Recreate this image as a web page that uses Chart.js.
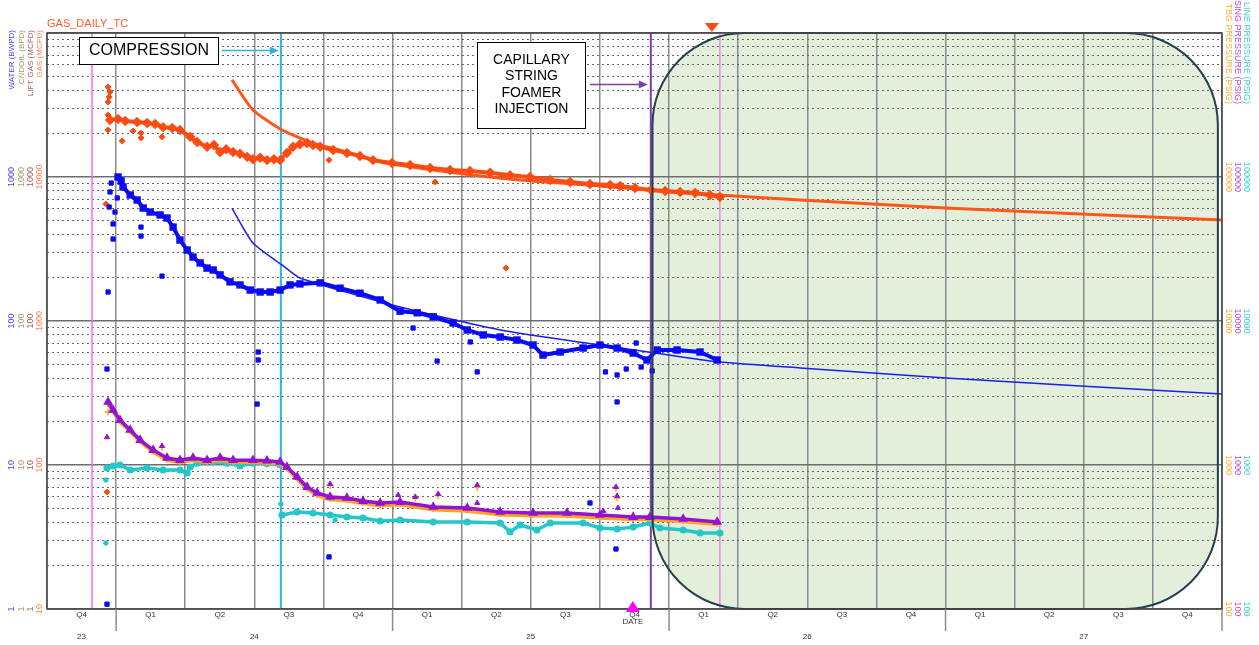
<!DOCTYPE html>
<html>
<head>
<meta charset="utf-8">
<script src="https://cdn.jsdelivr.net/npm/chart.js@4.4.1/dist/chart.umd.min.js"></script>
<style>
  html, body { margin: 0; padding: 0; background: #fff; }
  #wrap { width: 1259px; height: 645px; }
</style>
</head>
<body>
<div id="wrap"><canvas id="wellChart" width="1259" height="645"></canvas></div>
<script>
// ---- data (dates as decimal years) ----
const gasT = [2023.978, 2024.007, 2024.033, 2024.076, 2024.112, 2024.141, 2024.170, 2024.203, 2024.231, 2024.268,
  2024.293, 2024.329, 2024.354, 2024.376, 2024.398, 2024.423, 2024.448, 2024.474, 2024.495, 2024.521,
  2024.546, 2024.571, 2024.593, 2024.618, 2024.640, 2024.665, 2024.691, 2024.712, 2024.738, 2024.785,
  2024.835, 2024.882, 2024.929, 2024.998, 2025.063, 2025.136, 2025.208, 2025.280, 2025.353, 2025.425,
  2025.497, 2025.570, 2025.642, 2025.714, 2025.787, 2025.823, 2025.877, 2025.935, 2025.986, 2026.040,
  2026.094, 2026.148, 2026.184];
const gasRate = [24900, 25300, 24500, 24100, 23700, 23300, 22200, 21900, 21200, 19000,
  17500, 16200, 16700, 14900, 15600, 14900, 14500, 13800, 13300, 13600,
  13100, 13300, 13100, 14700, 16200, 16900, 17200, 16700, 16200, 15400,
  14700, 14000, 13100, 12500, 12100, 11550, 11200, 11000, 10700, 10300,
  10000, 9530, 9230, 8940, 8800, 8660, 8390, 8120, 7990, 7870,
  7740, 7500, 7260];
const gasOutT = [2023.971, 2023.978, 2023.975, 2023.971, 2023.971, 2023.971, 2024.022, 2024.061, 2024.090, 2024.090,
  2024.166, 2024.770, 2025.154, 2025.410, 2023.963, 2023.967];
const gasOutRate = [42200, 38900, 35900, 33200, 26900, 21200, 17800, 20900, 20200, 18700,
  19000, 13100, 9230, 2330, 6490, 64.9];

const waterT = [2024.007, 2024.018, 2024.025, 2024.051, 2024.076, 2024.098, 2024.123, 2024.159, 2024.184, 2024.206,
  2024.231, 2024.257, 2024.278, 2024.304, 2024.329, 2024.351, 2024.376, 2024.412, 2024.448, 2024.485,
  2024.521, 2024.557, 2024.593, 2024.629, 2024.665, 2024.738, 2024.810, 2024.882, 2024.955, 2025.027,
  2025.089, 2025.147, 2025.219, 2025.270, 2025.328, 2025.389, 2025.450, 2025.508, 2025.544, 2025.606,
  2025.689, 2025.750, 2025.812, 2025.870, 2025.920, 2025.957, 2026.029, 2026.112, 2026.174];
const waterRate = [1000, 938, 853, 750, 692, 609, 571, 545, 519, 449,
  365, 311, 278, 253, 233, 226, 209, 187, 178, 164,
  159, 159, 164, 178, 181, 184, 169, 156, 140, 117,
  114, 107, 96.8, 86.6, 80.0, 77.4, 73.8, 68.1, 58.0, 60.9,
  64.9, 68.1, 64.9, 59.9, 53.6, 62.9, 62.9, 60.9, 53.6];
const waterOutT = [2023.971, 2023.982, 2023.978, 2023.975, 2023.996, 2023.989, 2023.989, 2023.967, 2023.967, 2024.090,
  2024.090, 2024.166, 2024.004, 2024.514, 2024.514, 2024.510, 2024.770, 2025.074, 2025.161, 2025.306,
  2025.281, 2025.770, 2025.812, 2025.812, 2025.845, 2025.881, 2025.899, 2025.939, 2025.714, 2025.808];
const waterOutRate = [159, 908, 787, 619, 571, 472, 371, 46.4, 1.08, 449,
  389, 205, 715, 60.9, 53.6, 26.5, 2.30, 89.4, 52.7, 44.3,
  71.5, 44.3, 42.2, 27.4, 46.4, 70.3, 47.9, 45.0, 5.45, 2.61];

const pressT = [2023.971, 2023.989, 2024.014, 2024.051, 2024.087, 2024.134, 2024.184, 2024.231, 2024.278, 2024.329,
  2024.376, 2024.423, 2024.495, 2024.546, 2024.593, 2024.618, 2024.655, 2024.691, 2024.727, 2024.774,
  2024.835, 2024.893, 2024.955, 2025.027, 2025.147, 2025.270, 2025.389, 2025.508, 2025.631, 2025.750,
  2025.870, 2025.931, 2026.051, 2026.174];
const casingPress = [2740, 2410, 2050, 1750, 1490, 1270, 1120, 1080, 1120, 1080,
  1120, 1080, 1080, 1070, 1050, 968, 826, 703, 639, 600,
  590, 562, 545, 553, 511, 503, 472, 464, 464, 450,
  435, 435, 422, 402];
const tbgPress = [2650, 2350, 1990, 1700, 1450, 1230, 1080, 1040, 1080, 1040,
  1080, 1040, 1050, 1030, 1020, 940, 800, 680, 615, 575,
  565, 540, 522, 530, 488, 480, 452, 444, 442, 428,
  418, 418, 405, 388];
const casingOutT = [2023.967, 2024.166, 2024.774, 2025.020, 2025.082, 2025.165, 2025.306, 2025.306, 2025.808, 2025.812, 2025.815, 2025.762];
const casingOutPress = [1560, 1355, 738, 619, 600, 629, 726, 545, 703, 609, 503, 479];
const tbgOutT = [2023.971, 2024.166, 2024.774, 2025.082, 2025.165, 2025.306, 2025.808, 2025.812];
const tbgOutPress = [2330, 1330, 720, 590, 615, 700, 690, 590];

const lineT = [2023.967, 2023.989, 2024.014, 2024.051, 2024.112, 2024.170, 2024.231, 2024.257, 2024.268, 2024.293,
  2024.351, 2024.402, 2024.448, 2024.495, 2024.546, 2024.593, 2024.597, 2024.600, 2024.655, 2024.712,
  2024.774, 2024.835, 2024.893, 2024.955, 2025.027, 2025.147, 2025.270, 2025.389, 2025.425, 2025.461,
  2025.522, 2025.570, 2025.689, 2025.750, 2025.812, 2025.870, 2025.931, 2025.967, 2026.051, 2026.112,
  2026.184];
const linePress = [953, 984, 1000, 923, 953, 923, 923, 880, 968, 1030,
  1050, 1030, 984, 1030, 1020, 1000, null, 450, 472, 464,
  450, 435, 429, 408, 415, 402, 402, 396, 343, 383,
  354, 396, 396, 365, 359, 371, 396, 365, 354, 337,
  337];
const lineOutT = [2023.963, 2023.963, 2024.596, 2024.792];
const lineOutPress = [787, 287, 536, 415];

// type curves
const gasFcT = [2024.419, 2024.495, 2024.600, 2024.712, 2024.835, 2024.955, 2025.208, 2025.461, 2025.750, 2026.0, 2026.474, 2027.0, 2027.488, 2028.0];
const gasFc = [47200, 29200, 21200, 17200, 14900, 12700, 10800, 9530, 8660, 7870, 6920, 6090, 5530, 5030];
const waterFcT = [2024.419, 2024.495, 2024.600, 2024.665, 2025.0, 2025.389, 2025.750, 2026.0, 2026.184, 2026.474, 2027.0, 2027.488, 2028.0];
const waterFc = [609, 348, 245, 199, 129, 86.6, 68.1, 58.0, 51.9, 47.2, 40.2, 35.4, 31.1];

// events / markers
const eventT = [2023.913, 2024.596, 2025.934, 2026.184];
const forecastZone = [2025.94, 2027.985];
const dateMarkT = 2025.869;
const topMarkT = 2026.155;

// axis labels
const quarterLabels = ['Q4', 'Q1', 'Q2', 'Q3', 'Q4', 'Q1', 'Q2', 'Q3', 'Q4', 'Q1', 'Q2', 'Q3', 'Q4', 'Q1', 'Q2', 'Q3', 'Q4'];
const yearLabels = ['23', '24', '25', '26', '27'];
const yearCenters = [2023.875, 2024.5, 2025.5, 2026.5, 2027.5];
const yearEdges = [2024, 2025, 2026, 2027, 2028];
const decades = [1, 10, 100, 1000];
const waterTicks = ['1', '10', '100', '1000'];
const gasTicks = ['10', '100', '1000', '10000'];
const pressTicks = ['100', '1000', '10000', '100000'];

const X_MIN = 2023.75, X_MAX = 2028;
const FONT = "'Liberation Sans', Arial, sans-serif";

function pts(ts, vs) {
  return ts.map((t, i) => ({ x: t, y: vs[i] }));
}
function isDecade(v) {
  if (!v) return false;
  const l = Math.log10(v);
  return Math.abs(l - Math.round(l)) < 1e-9;
}

function roundRectPath(ctx, x, y, w, h, r) {
  ctx.beginPath();
  ctx.moveTo(x + r, y);
  ctx.arcTo(x + w, y, x + w, y + h, r);
  ctx.arcTo(x + w, y + h, x, y + h, r);
  ctx.arcTo(x, y + h, x, y, r);
  ctx.arcTo(x, y, x + w, y, r);
  ctx.closePath();
}

function arrow(ctx, x1, x2, y, color) {
  ctx.save();
  ctx.strokeStyle = color; ctx.fillStyle = color; ctx.lineWidth = 1.5;
  ctx.beginPath(); ctx.moveTo(x1, y); ctx.lineTo(x2 - 6, y); ctx.stroke();
  ctx.beginPath(); ctx.moveTo(x2, y); ctx.lineTo(x2 - 9, y - 4); ctx.lineTo(x2 - 9, y + 4); ctx.closePath(); ctx.fill();
  ctx.restore();
}

const decor = {
  id: 'decor',
  beforeDraw(chart) {
    const { ctx, chartArea: a, scales: { x } } = chart;
    const x0 = x.getPixelForValue(forecastZone[0]);
    const x1 = x.getPixelForValue(forecastZone[1]);
    ctx.save();
    roundRectPath(ctx, x0, a.top, x1 - x0, a.bottom - a.top, 92);
    ctx.fillStyle = '#e3efda';
    ctx.fill();
    ctx.restore();
  },
  afterDatasetsDraw(chart) {
    const { ctx, chartArea: a, scales: { x } } = chart;
    const x0 = x.getPixelForValue(forecastZone[0]);
    const x1 = x.getPixelForValue(forecastZone[1]);
    ctx.save();
    roundRectPath(ctx, x0, a.top, x1 - x0, a.bottom - a.top, 92);
    ctx.strokeStyle = '#23404f';
    ctx.lineWidth = 2;
    ctx.stroke();
    ctx.strokeStyle = '#444';
    ctx.lineWidth = 1.5;
    ctx.strokeRect(a.left, a.top, a.right - a.left, a.bottom - a.top);
    ctx.restore();
  },
  afterDraw(chart) {
    const { ctx, chartArea: a, scales: { x, y } } = chart;
    ctx.save();

    // title
    ctx.font = '11px ' + FONT;
    ctx.fillStyle = '#ff5a2a';
    ctx.textAlign = 'left';
    ctx.textBaseline = 'alphabetic';
    ctx.fillText('GAS_DAILY_TC', 47, 27);

    // left axes
    const left = [
      { title: 'WATER (BWPD)', color: '#4343ff', x: 12, labels: waterTicks },
      { title: 'CNDOIL (BPD)', color: '#a0a058', x: 21.5, labels: waterTicks },
      { title: 'LIFT GAS (MCFD)', color: '#a85a5a', x: 31, labels: waterTicks },
      { title: 'GAS (MCFD)', color: '#ff7f55', x: 40, labels: gasTicks }
    ];
    left.forEach(ax => {
      ctx.fillStyle = ax.color;
      ctx.font = '8px ' + FONT;
      ctx.save();
      ctx.translate(ax.x, 30);
      ctx.rotate(-Math.PI / 2);
      ctx.textAlign = 'right';
      ctx.textBaseline = 'middle';
      ctx.fillText(ax.title, 0, 0);
      ctx.restore();
      ctx.font = '9px ' + FONT;
      decades.forEach((v, i) => {
        ctx.save();
        ctx.translate(ax.x, y.getPixelForValue(v));
        ctx.rotate(-Math.PI / 2);
        ctx.textAlign = 'center';
        ctx.textBaseline = 'middle';
        ctx.fillText(ax.labels[i], 0, 0);
        ctx.restore();
      });
    });

    // right axes
    const right = [
      { title: 'TBG PRESSURE (PSIG)', color: '#ffb03a', x: 1228 },
      { title: 'CASING PRESSURE (PSIG)', color: '#b44fe0', x: 1237 },
      { title: 'LINE PRESSURE (PSIG)', color: '#3ccfd6', x: 1246 }
    ];
    right.forEach(ax => {
      ctx.fillStyle = ax.color;
      ctx.font = '9px ' + FONT;
      ctx.save();
      ctx.translate(ax.x, 104);
      ctx.rotate(Math.PI / 2);
      ctx.textAlign = 'right';
      ctx.textBaseline = 'middle';
      ctx.fillText(ax.title, 0, 0);
      ctx.restore();
      decades.forEach((v, i) => {
        ctx.save();
        ctx.translate(ax.x, y.getPixelForValue(v));
        ctx.rotate(Math.PI / 2);
        ctx.textAlign = 'center';
        ctx.textBaseline = 'middle';
        ctx.fillText(pressTicks[i], 0, 0);
        ctx.restore();
      });
    });

    // bottom: quarters and years
    ctx.fillStyle = '#333';
    ctx.font = '8px ' + FONT;
    ctx.textAlign = 'center';
    ctx.textBaseline = 'middle';
    quarterLabels.forEach((q, i) => {
      ctx.fillText(q, x.getPixelForValue(X_MIN + 0.25 * i + 0.125), a.bottom + 6);
    });
    yearLabels.forEach((yl, i) => {
      ctx.fillText(yl, x.getPixelForValue(yearCenters[i]), a.bottom + 28);
    });
    ctx.strokeStyle = '#8c8c8c';
    ctx.lineWidth = 1.5;
    yearEdges.forEach(t => {
      const px = x.getPixelForValue(t);
      ctx.beginPath(); ctx.moveTo(px, a.bottom); ctx.lineTo(px, a.bottom + 22); ctx.stroke();
    });

    // date marker
    const dx = x.getPixelForValue(dateMarkT);
    ctx.fillStyle = '#ff00ff';
    ctx.beginPath(); ctx.moveTo(dx - 7, a.bottom + 3); ctx.lineTo(dx + 7, a.bottom + 3); ctx.lineTo(dx, a.bottom - 8); ctx.closePath(); ctx.fill();
    ctx.fillStyle = '#333';
    ctx.fillText('DATE', dx, a.bottom + 13);

    // top marker
    const tx = x.getPixelForValue(topMarkT);
    ctx.fillStyle = '#ff4a10';
    ctx.beginPath(); ctx.moveTo(tx - 7, a.top - 10); ctx.lineTo(tx + 7, a.top - 10); ctx.lineTo(tx, a.top - 1); ctx.closePath(); ctx.fill();

    // annotations
    ctx.lineWidth = 1;
    ctx.fillStyle = '#fff';
    ctx.strokeStyle = '#000';
    ctx.fillRect(79.5, 37.5, 139, 27);
    ctx.strokeRect(79.5, 37.5, 139, 27);
    ctx.fillStyle = '#000';
    ctx.font = '16px ' + FONT;
    ctx.fillText('COMPRESSION', 149, 51);
    arrow(ctx, 222, x.getPixelForValue(eventT[1]) - 2, 50.5, '#29b4e6');

    ctx.fillStyle = '#fff';
    ctx.strokeStyle = '#000';
    ctx.lineWidth = 1;
    ctx.fillRect(477.5, 42.5, 108, 86);
    ctx.strokeRect(477.5, 42.5, 108, 86);
    ctx.fillStyle = '#000';
    ctx.font = '14px ' + FONT;
    ['CAPILLARY', 'STRING', 'FOAMER', 'INJECTION'].forEach((s, i) => ctx.fillText(s, 531.5, 60 + i * 16.5));
    arrow(ctx, 590, x.getPixelForValue(eventT[2]) - 3, 84.5, '#7d3fa8');

    ctx.restore();
  }
};

const quarterEdges = [];
for (let t = X_MIN; t <= X_MAX + 1e-9; t += 0.25) quarterEdges.push(t);
const logTicks = [];
for (let e = 0; e < 4; e++) for (let m = 1; m <= 9; m++) logTicks.push(m * Math.pow(10, e));
logTicks.push(10000);

function vline(t) {
  return [{ x: t, y: 1 }, { x: t, y: 10000 }];
}

const datasets = [
  // event lines
  { data: vline(eventT[0]), borderColor: '#f070f0', borderWidth: 1.5 },
  { data: vline(eventT[1]), borderColor: '#2cb6ea', borderWidth: 2 },
  { data: vline(eventT[2]), borderColor: '#7a3db8', borderWidth: 2 },
  { data: vline(eventT[3]), borderColor: '#ee55ee', borderWidth: 1 }
].map(d => Object.assign(d, { showLine: true, pointRadius: 0, yAxisID: 'y', order: 20 }));

datasets.push(
  { label: 'Line pressure', data: pts(lineT, linePress), yAxisID: 'yP', showLine: true, spanGaps: false,
    borderColor: '#22c7c9', borderWidth: 3.5, pointStyle: 'circle', pointRadius: 1.8,
    pointBackgroundColor: '#22c7c9', pointBorderColor: '#22c7c9', order: 5 },
  { label: 'Line outliers', data: pts(lineOutT, lineOutPress), yAxisID: 'yP',
    pointStyle: 'circle', pointRadius: 2.2, pointBackgroundColor: '#22c7c9', pointBorderColor: '#22c7c9', order: 5 },
  { label: 'TBG pressure', data: pts(pressT, tbgPress), yAxisID: 'yP', showLine: true,
    borderColor: '#ffa31a', borderWidth: 3.5, pointStyle: 'cross', pointRadius: 2.5, pointBorderWidth: 1.5,
    pointBorderColor: '#ffa31a', order: 4 },
  { label: 'TBG outliers', data: pts(tbgOutT, tbgOutPress), yAxisID: 'yP',
    pointStyle: 'cross', pointRadius: 3.5, pointBorderWidth: 1.5, pointBorderColor: '#ffa31a', order: 4 },
  { label: 'Casing pressure', data: pts(pressT, casingPress), yAxisID: 'yP', showLine: true,
    borderColor: '#9413d2', borderWidth: 3.5, pointStyle: 'triangle', pointRadius: 2.2,
    pointBackgroundColor: '#9413d2', pointBorderColor: '#9413d2', order: 3 },
  { label: 'Casing outliers', data: pts(casingOutT, casingOutPress), yAxisID: 'yP',
    pointStyle: 'triangle', pointRadius: 3, pointBackgroundColor: '#9413d2', pointBorderColor: '#9413d2', order: 3 },
  { label: 'Gas', data: pts(gasT, gasRate), yAxisID: 'yGas', showLine: true,
    borderColor: '#ff4a12', borderWidth: 4, pointStyle: 'rectRot', pointRadius: 2.4,
    pointBackgroundColor: '#ff4a12', pointBorderColor: '#ff4a12', order: 2 },
  { label: 'Gas outliers', data: pts(gasOutT, gasOutRate), yAxisID: 'yGas',
    pointStyle: 'rectRot', pointRadius: 3, pointBackgroundColor: '#ff4a12', pointBorderColor: '#ff4a12', order: 2 },
  { label: 'Water', data: pts(waterT, waterRate), yAxisID: 'y', showLine: true,
    borderColor: '#0a0af5', borderWidth: 4, pointStyle: 'rect', pointRadius: 2.4,
    pointBackgroundColor: '#0a0af5', pointBorderColor: '#0a0af5', order: 1 },
  { label: 'Water outliers', data: pts(waterOutT, waterOutRate), yAxisID: 'y',
    pointStyle: 'rect', pointRadius: 3, pointBackgroundColor: '#0a0af5', pointBorderColor: '#0a0af5', order: 1 },
  { label: 'Gas TC', data: pts(gasFcT, gasFc), yAxisID: 'yGas', showLine: true,
    borderColor: '#ff561c', borderWidth: 3, pointRadius: 0, tension: 0.2, order: 6 },
  { label: 'Water TC', data: pts(waterFcT, waterFc), yAxisID: 'y', showLine: true,
    borderColor: '#1c1cf0', borderWidth: 1.5, pointRadius: 0, tension: 0.2, order: 6 }
);

new Chart(document.getElementById('wellChart'), {
  type: 'scatter',
  data: { datasets },
  options: {
    responsive: false,
    animation: false,
    devicePixelRatio: 1,
    layout: { padding: { left: 47, right: 37, top: 33, bottom: 36 } },
    plugins: { legend: { display: false }, tooltip: { enabled: false } },
    scales: {
      x: {
        type: 'linear', min: X_MIN, max: X_MAX,
        afterBuildTicks: s => { s.ticks = quarterEdges.map(v => ({ value: v })); },
        grid: { color: '#8c8c8c', lineWidth: 1.5, drawTicks: false },
        border: { display: false },
        ticks: { display: false }
      },
      y: {
        type: 'logarithmic', min: 1, max: 10000,
        afterBuildTicks: s => { s.ticks = logTicks.map(v => ({ value: v })); },
        grid: {
          color: c => isDecade(c.tick && c.tick.value) ? '#6e6e6e' : '#666',
          lineWidth: c => isDecade(c.tick && c.tick.value) ? 1.6 : 1,
          drawTicks: false
        },
        border: { display: false, dash: c => (c.tick && !isDecade(c.tick.value)) ? [2, 3] : [] },
        ticks: { display: false }
      },
      yGas: { type: 'logarithmic', min: 10, max: 100000, display: false },
      yP: { type: 'logarithmic', min: 100, max: 1000000, display: false }
    }
  },
  plugins: [decor]
});
</script>
</body>
</html>
